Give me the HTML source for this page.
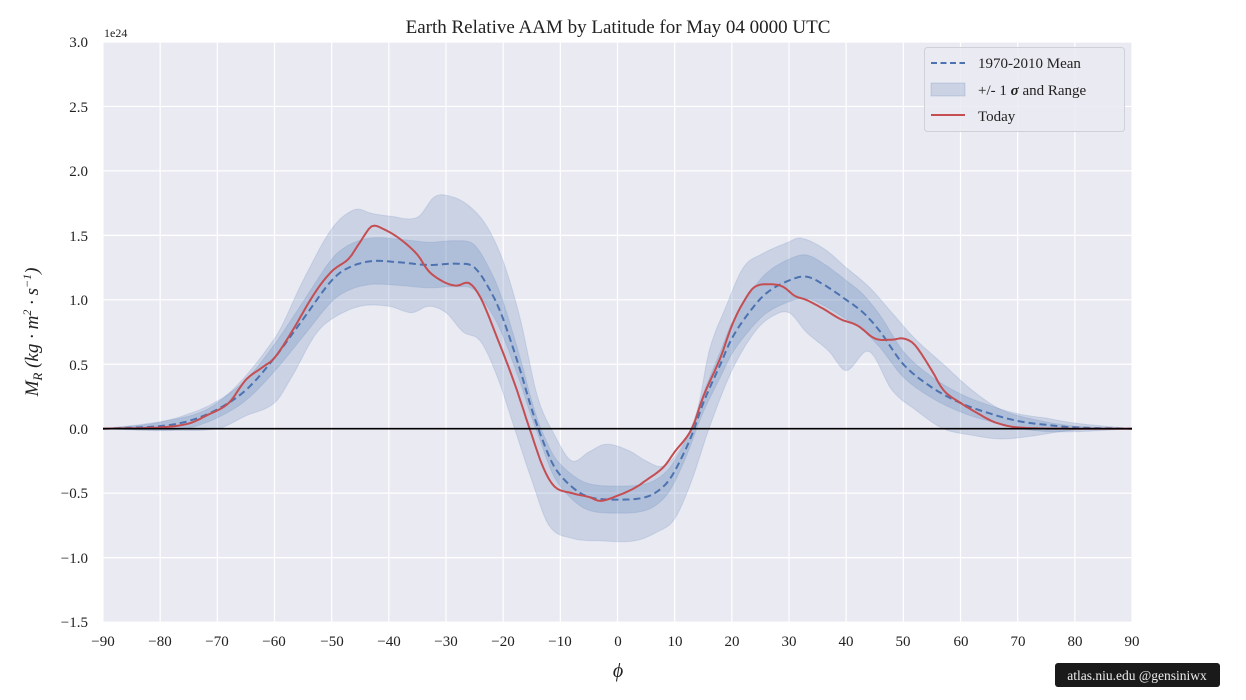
<!DOCTYPE html>
<html><head><meta charset="utf-8"><style>
html,body{margin:0;padding:0;background:#fff;}
svg{display:block;font-family:"Liberation Serif",serif;}
</style></head><body>
<svg id="s" width="1246" height="700" viewBox="0 0 1246 700" xmlns="http://www.w3.org/2000/svg">
<rect x="103" y="42" width="1029" height="580" fill="#eaeaf2"/>
<g id="grid" stroke="#fff" stroke-width="1.2"></g>
<g id="plot"></g>
<line x1="103" x2="1132" y1="428.7" y2="428.7" stroke="#000" stroke-width="1.6"/>
<text x="618" y="33" font-size="19" text-anchor="middle" fill="#222">Earth Relative AAM by Latitude for May 04 0000 UTC</text>
<text x="104" y="37" font-size="12" fill="#222">1e24</text>
<g font-size="15" fill="#222" text-anchor="end">
<text x="88" y="47">3.0</text><text x="88" y="112">2.5</text><text x="88" y="176">2.0</text>
<text x="88" y="241">1.5</text><text x="88" y="305">1.0</text><text x="88" y="370">0.5</text>
<text x="88" y="434">0.0</text><text x="88" y="498">−0.5</text><text x="88" y="563">−1.0</text>
<text x="88" y="627">−1.5</text>
</g>
<g font-size="15" fill="#222" text-anchor="middle">
<text x="103" y="646">−90</text><text x="160" y="646">−80</text><text x="217" y="646">−70</text>
<text x="274" y="646">−60</text><text x="332" y="646">−50</text><text x="389" y="646">−40</text>
<text x="446" y="646">−30</text><text x="503" y="646">−20</text><text x="560" y="646">−10</text>
<text x="618" y="646">0</text><text x="675" y="646">10</text><text x="732" y="646">20</text>
<text x="789" y="646">30</text><text x="846" y="646">40</text><text x="903" y="646">50</text>
<text x="961" y="646">60</text><text x="1018" y="646">70</text><text x="1075" y="646">80</text>
<text x="1132" y="646">90</text>
</g>
<text x="618" y="677" font-size="20" font-style="italic" text-anchor="middle" fill="#222">ϕ</text>
<text transform="translate(38,332) rotate(-90)" font-size="19" font-style="italic" text-anchor="middle" fill="#222">M<tspan font-size="13" dy="4">R</tspan><tspan dy="-4">  (kg · m</tspan><tspan font-size="12" dy="-7">2</tspan><tspan dy="7"> · s</tspan><tspan font-size="12" dy="-7">−1</tspan><tspan dy="7">)</tspan></text>
<rect x="924.5" y="47.5" width="200" height="84" rx="3" fill="#eaeaf2" fill-opacity="0.85" stroke="#d0d0d8"/>
<line x1="931" x2="965" y1="63" y2="63" stroke="#4c72b0" stroke-width="2" stroke-dasharray="6,3.5"/>
<rect x="931" y="83" width="34" height="13" fill="#4c72b0" fill-opacity="0.2" stroke="#4c72b0" stroke-opacity="0.2"/>
<line x1="931" x2="965" y1="115" y2="115" stroke="#c44e52" stroke-width="2"/>
<g font-size="15" fill="#222">
<text x="978" y="68">1970-2010 Mean</text>
<text x="978" y="95">+/- 1 <tspan font-style="italic" font-weight="bold">σ</tspan> and Range</text>
<text x="978" y="121">Today</text>
</g>
<rect x="1055" y="663" width="165" height="24" rx="3" fill="#1a1a1a"/>
<text x="1137" y="680" font-size="13.5" fill="#eee" text-anchor="middle">atlas.niu.edu  @gensiniwx</text>
</svg>
<script>
const X=l=>103+(l+90)*1029/180, Y=v=>428.7-v*128.9;
const g=document.getElementById('grid');
for(let l=-90;l<=90;l+=10){g.innerHTML+=`<line x1="${X(l)}" x2="${X(l)}" y1="42" y2="622"/>`;}
for(let v=-1.5;v<=3.01;v+=0.5){g.innerHTML+=`<line x1="103" x2="1132" y1="${Y(v)}" y2="${Y(v)}"/>`;}
function P(a){const o=[];for(let i=0;i<a.length;i+=2)o.push([a[i],a[i+1]]);return o;}
function interp(pts,l){for(let i=0;i<pts.length-1;i++){if(l>=pts[i][0]&&l<=pts[i+1][0]){const a=pts[Math.max(0,i-1)],b=pts[i],c=pts[i+1],d=pts[Math.min(pts.length-1,i+2)];const t=(l-b[0])/(c[0]-b[0]);
const m1=(c[1]-a[1])/((c[0]-a[0])||1)*(c[0]-b[0]),m2=(d[1]-b[1])/((d[0]-b[0])||1)*(c[0]-b[0]);const t2=t*t,t3=t2*t;
return (2*t3-3*t2+1)*b[1]+(t3-2*t2+t)*m1+(-2*t3+3*t2)*c[1]+(t3-t2)*m2;}}return 0;}
const mean=P([-90,0,-80,0.02,-75,0.06,-70,0.15,-65,0.3,-60,0.55,-55,0.85,-50,1.15,-47,1.25,-43,1.3,-38,1.29,-33,1.27,-28,1.28,-25,1.25,-22,1.05,-20,0.85,-17,0.45,-15,0.15,-13,-0.1,-11,-0.3,-8,-0.45,-5,-0.53,0,-0.55,5,-0.53,8,-0.45,10,-0.33,13,-0.05,15,0.2,18,0.5,20,0.7,23,0.9,26,1.05,30,1.15,33,1.18,36,1.12,40,1.0,43,0.9,46,0.75,50,0.5,55,0.32,60,0.2,65,0.12,70,0.06,75,0.03,80,0.01,90,0]);
const today=P([-90,0,-80,0.01,-75,0.04,-72,0.1,-68,0.2,-65,0.38,-62,0.48,-60,0.55,-57,0.75,-53,1.05,-50,1.22,-47,1.32,-45,1.45,-43,1.57,-41,1.55,-38,1.47,-35,1.35,-33,1.22,-30,1.13,-28,1.11,-26,1.13,-24,1.02,-21,0.7,-18,0.35,-15,-0.05,-13,-0.3,-11,-0.45,-8,-0.5,-5,-0.53,-3,-0.56,0,-0.52,3,-0.46,5,-0.4,8,-0.3,10,-0.18,13,0.0,15,0.25,18,0.55,20,0.8,22,0.98,24,1.1,27,1.12,29,1.1,31,1.03,33,1.0,36,0.93,39,0.85,42,0.8,45,0.7,48,0.69,50,0.7,52,0.65,55,0.45,57,0.3,60,0.2,63,0.12,66,0.05,70,0.01,80,0,90,0]);
const ou=P([-90,0,-80,0.05,-70,0.2,-60,0.7,-55,1.15,-50,1.55,-46,1.7,-43,1.67,-40,1.65,-35,1.64,-32,1.8,-29,1.8,-26,1.73,-23,1.58,-20,1.3,-17,0.85,-14,0.25,-11,-0.05,-8,-0.25,-5,-0.18,-2,-0.12,2,-0.17,5,-0.25,8,-0.29,11,-0.15,14,0.15,16,0.6,19,0.95,22,1.25,25,1.35,30,1.45,32,1.48,36,1.4,40,1.25,44,1.1,48,0.9,52,0.7,57,0.5,62,0.3,67,0.15,72,0.08,80,0.02,90,0]);
const ol=P([-90,0,-80,-0.01,-70,0.0,-65,0.1,-60,0.2,-57,0.4,-53,0.72,-50,0.85,-45,0.95,-40,0.95,-36,0.9,-33,0.95,-30,0.9,-27,0.75,-24,0.68,-21,0.4,-18,0.0,-15,-0.4,-12,-0.75,-8,-0.85,-3,-0.87,3,-0.87,7,-0.8,10,-0.7,13,-0.4,16,0.0,20,0.45,24,0.75,27,0.87,30,0.9,33,0.75,37,0.6,40,0.45,44,0.6,48,0.3,52,0.15,57,0.0,62,-0.05,67,-0.08,72,-0.06,80,-0.01,90,0]);
function line(f){let s='';for(let l=-90;l<=90.001;l+=0.5)s+=(s?'L':'M')+X(l).toFixed(1)+','+Y(f(l)).toFixed(1);return s;}
function band(fu,fl){let s='';for(let l=-90;l<=90.001;l+=0.5)s+=(s?'L':'M')+X(l).toFixed(1)+','+Y(fu(l)).toFixed(1);for(let l=90;l>=-90;l-=0.5)s+='L'+X(l).toFixed(1)+','+Y(fl(l)).toFixed(1);return s+'Z';}
const m=l=>interp(mean,l);
const d=l=>{const v=Math.abs(m(l));const e=Math.min(1,(90-Math.abs(l))/15);return (0.05+0.1*v)*e;};
const p=document.getElementById('plot');
p.innerHTML=`<path d="${band(l=>interp(ou,l),l=>interp(ol,l))}" fill="#4c72b0" fill-opacity="0.2" stroke="#4c72b0" stroke-opacity="0.15"/>
<path d="${band(l=>m(l)+d(l),l=>m(l)-d(l))}" fill="#4c72b0" fill-opacity="0.2" stroke="#4c72b0" stroke-opacity="0.15"/>
<path d="${line(m)}" fill="none" stroke="#4c72b0" stroke-width="2" stroke-dasharray="7,4"/>
<path d="${line(l=>interp(today,l))}" fill="none" stroke="#c44e52" stroke-width="2"/>`;
</script>
</body></html>
